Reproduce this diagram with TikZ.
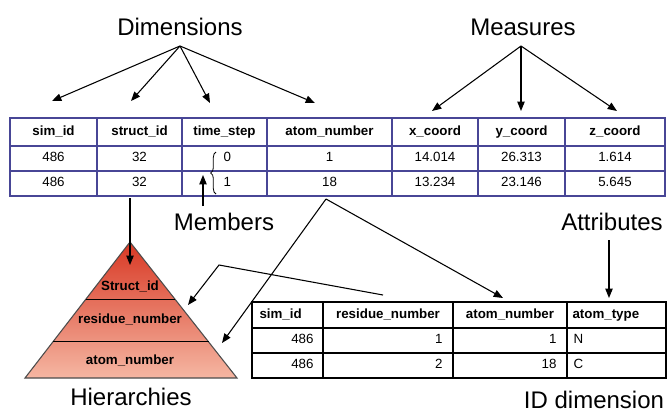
\documentclass[tikz,border=0pt]{standalone}
\usepackage{fontspec}
\setmainfont{Liberation Sans}
\usetikzlibrary{arrows.meta,calc,decorations.pathreplacing}

\definecolor{tabblue}{RGB}{72,70,150}
\definecolor{pyrtop}{RGB}{216,56,36}
\definecolor{pyrbot}{RGB}{245,182,162}

\tikzset{every picture/.style={line width=0.75pt}}
\tikzset{
  biglbl/.style={anchor=base,inner sep=0.75pt,font=\fontsize{18}{21}\selectfont},
  hdr/.style={inner sep=0.75pt,text height=7.4pt,text depth=2.2pt,font=\fontsize{10}{12}\selectfont\bfseries},
  cell/.style={inner sep=0.75pt,text height=7.4pt,text depth=2.2pt,font=\fontsize{10}{12}\selectfont},
  tabline/.style={draw=tabblue,line width=1pt},
  idline/.style={draw=black,line width=0.8pt},
  ptr/.style={-{Triangle[length=7pt,width=5.5pt]},line width=0.8pt},
}

\begin{document}
\begin{tikzpicture}[x=0.75pt,y=0.75pt,yscale=-1,xscale=1]
\useasboundingbox (0,0) rectangle (668,411);

% Fact table
\draw [tabline] (10,118) rectangle (665,196) ;
\foreach \y in {146,171} \draw [tabline] (10,\y) -- (665,\y) ;
\foreach \x in {97,182,267,392,478,565} \draw [tabline] (\x,118) -- (\x,196) ;

% Text Node
\node [hdr] (hsim) at (53.5,132) {sim\_id};
\node [hdr] (hstruct) at (139.5,132) {struct\_id};
\node [hdr] (htime) at (224.5,132) {time\_step};
\node [hdr] (hatom) at (329.5,132) {atom\_number};
\node [hdr] (hx) at (435,132) {x\_coord};
\node [hdr] (hy) at (521.5,132) {y\_coord};
\node [hdr] (hz) at (615,132) {z\_coord};
% Text Node
\node [cell] (asim) at (53.5,158.5) {486};
\node [cell] (astruct) at (139.5,158.5) {32};
\node [cell,anchor=west] (atime) at (222,158.5) {0};
\node [cell] (aatom) at (329.5,158.5) {1};
\node [cell] (ax) at (435,158.5) {14.014};
\node [cell] (ay) at (521.5,158.5) {26.313};
\node [cell] (az) at (615,158.5) {1.614};
% Text Node
\node [cell] (bsimv) at (53.5,183.5) {486};
\node [cell] (bstructv) at (139.5,183.5) {32};
\node [cell,anchor=west] (btime) at (222,183.5) {1};
\node [cell] (batomv) at (329.5,183.5) {18};
\node [cell] (bx) at (435,183.5) {13.234};
\node [cell] (by) at (521.5,183.5) {23.146};
\node [cell] (bz) at (615,183.5) {5.645};

% brace on the members
\draw [line width=0.6pt,decorate,decoration={brace,amplitude=4pt}] (216,194) -- (216,152) ;

% Labels
\node [biglbl] (dimlbl) at (180,35) {Dimensions};
\node [biglbl] (measlbl) at (523,35) {Measures};
\node [biglbl] (memlbl) at (224,230) {Members};
\node [biglbl] (attrlbl) at (612,230) {Attributes};
\node [biglbl] (hierlbl) at (131,405) {Hierarchies};
\node [biglbl] (idlbl) at (594,408) {ID dimension};

% Dimensions and Measures
\coordinate (dimroot) at (180,46);
\coordinate (dsim) at (52,101);
\coordinate (dstruct) at (131,101);
\coordinate (dtime) at (210,103);
\coordinate (datom) at (315,103);
\foreach \t in {dsim,dstruct,dtime,datom} \draw [ptr] (dimroot) -- (\t) ;
\coordinate (measroot) at (521,46);
\coordinate (mx) at (432,111);
\coordinate (my) at (521,111);
\coordinate (mz) at (617,111);
\foreach \t in {mx,my,mz} \draw [ptr] (measroot) -- (\t) ;

% Members arrow
\coordinate (memfoot) at (203,206);
\coordinate (memtip) at (203,175);
\draw [ptr] (memfoot) -- (memtip) ;

% Hierarchy pyramid
\coordinate (apex) at (130,242);
\coordinate (pbl) at (25,378);
\coordinate (pbr) at (237,378);
\shade [top color=pyrtop,bottom color=pyrbot] (apex) -- (pbl) -- (pbr) -- cycle ;
\draw [color=black!70,line width=0.8pt] (apex) -- (pbl) -- (pbr) -- cycle ;
\draw [line width=0.8pt] ($(apex)!0.42!(pbl)$) -- ($(apex)!0.42!(pbr)$) ;
\draw [line width=0.8pt] ($(apex)!0.735!(pbl)$) -- ($(apex)!0.735!(pbr)$) ;
\node [hdr] (pstruct) at (130,287) {Struct\_id};
\node [hdr] (pres) at (130,320) {residue\_number};
\node [hdr] (patom) at (130,361) {atom\_number};

% struct_id to pyramid
\coordinate (structfoot) at (130,198);
\coordinate (structtip) at (130,265);
\draw [ptr] (structfoot) -- (structtip) ;

% ID dimension table
\draw [idline] (252,302) rectangle (666,378) ;
\foreach \y in {328,353} \draw [idline] (252,\y) -- (666,\y) ;
\foreach \x in {323,453,567} \draw [idline] (\x,302) -- (\x,378) ;
\node [hdr,anchor=west] (bsim) at (258,315) {sim\_id};
\node [hdr] (bres) at (388,315) {residue\_number};
\node [hdr] (batom) at (510,315) {atom\_number};
\node [hdr,anchor=west] (btype) at (571,315) {atom\_type};
\node [cell,anchor=east] (c1a) at (315,340.5) {486};
\node [cell,anchor=east] (c1b) at (444,340.5) {1};
\node [cell,anchor=east] (c1c) at (558,340.5) {1};
\node [cell,anchor=west] (c1d) at (572,340.5) {N};
\node [cell,anchor=east] (c2a) at (315,365.5) {486};
\node [cell,anchor=east] (c2b) at (444,365.5) {2};
\node [cell,anchor=east] (c2c) at (558,365.5) {18};
\node [cell,anchor=west] (c2d) at (572,365.5) {C};

% atom_number links
\coordinate (atomfork) at (326,199);
\coordinate (atomtipA) at (222,343);
\coordinate (atomtipB) at (503,298);
\draw [ptr] (atomfork) -- (atomtipA) ;
\draw [ptr] (atomfork) -- (atomtipB) ;

% residue_number link
\coordinate (resfoot) at (383,295);
\coordinate (resbend) at (219,265);
\coordinate (restip) at (188,305);
\draw [ptr] (resfoot) -- (resbend) -- (restip) ;

% Attributes arrow
\coordinate (attrfoot) at (609,240);
\coordinate (attrtip) at (609,298);
\draw [ptr] (attrfoot) -- (attrtip) ;

\end{tikzpicture}
\end{document}
